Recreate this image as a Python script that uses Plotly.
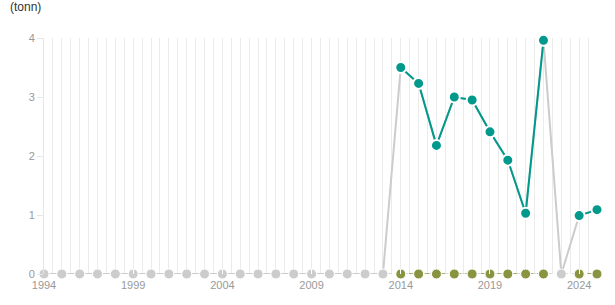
import plotly.graph_objects as go

years = list(range(1994, 2026))
# total values (gray underlying line)
total = [0]*20 + [3.50, 3.23, 2.18, 3.00, 2.95, 2.41, 1.93, 1.03, 3.96, 0, 0.99, 1.09]
# highlighted values (teal), None where missing
teal = [None]*20 + [3.50, 3.23, 2.18, 3.00, 2.95, 2.41, 1.93, 1.03, 3.96, None, 0.99, 1.09]
# zero-series (olive) where reported
olive = [None]*20 + [0, 0, 0, 0, 0, 0, 0, 0, 0, None, 0, 0]
zero_gray_years = years[:20] + [2023]
zero_gray = [0]*len(zero_gray_years)
tick_years = [1994, 1999, 2004, 2009, 2014, 2019, 2024]
y_ticks = [0, 1, 2, 3, 4]

GRAY = "#cccccc"
TEAL = "#00998c"
OLIVE = "#8a9440"

fig = go.Figure()
fig.add_trace(go.Scatter(x=years, y=[0]*len(years), mode="lines",
                         line=dict(color=GRAY, width=1.5, dash="4px,4px"),
                         hoverinfo="skip", cliponaxis=False))
fig.add_trace(go.Scatter(x=years, y=total, mode="lines",
                         line=dict(color=GRAY, width=2), cliponaxis=False))
fig.add_trace(go.Scatter(x=zero_gray_years, y=zero_gray, mode="markers",
                         marker=dict(color=GRAY, size=10, line=dict(color="white", width=1)),
                         cliponaxis=False))
fig.add_trace(go.Scatter(x=years, y=olive, mode="lines+markers",
                         line=dict(color=OLIVE, width=1.5, dash="4px,4px"),
                         marker=dict(color=OLIVE, size=10, line=dict(color="white", width=1)),
                         cliponaxis=False))
fig.add_trace(go.Scatter(x=years, y=teal, mode="lines+markers",
                         line=dict(color=TEAL, width=2),
                         marker=dict(color=TEAL, size=11, line=dict(color="white", width=2)),
                         cliponaxis=False))

fig.update_layout(
    width=615, height=305,
    margin=dict(l=44, r=18, t=38, b=31),
    paper_bgcolor="white", plot_bgcolor="white",
    showlegend=False,
    font=dict(family="Arial, Liberation Sans, sans-serif", size=11, color="#999999"),
    title=dict(text="(tonn)", x=10/615, xref="container", xanchor="left",
               y=1, yref="container", yanchor="top", pad=dict(t=3),
               font=dict(size=12, color="#333333")),
    xaxis=dict(range=[1994, 2025], tickmode="array", tickvals=tick_years,
               ticktext=[str(y) for y in tick_years],
               showgrid=False, zeroline=False, showline=False,
               ticks="inside", ticklen=5, tickcolor="white", tickwidth=1,
               ticklabelstandoff=3,
               minor=dict(dtick=0.5, tick0=1994, showgrid=True, gridcolor="#ebebeb", gridwidth=1),
               tickfont=dict(size=11, color="#999999")),
    yaxis=dict(range=[0, 4], tickvals=y_ticks, showgrid=False, zeroline=False,
               showline=True, linecolor="#e6e6e6", linewidth=1,
               ticks="outside", ticklen=6, tickcolor="#e6e6e6",
               tickfont=dict(size=11, color="#999999")),
)

fig.write_html("out.html")
